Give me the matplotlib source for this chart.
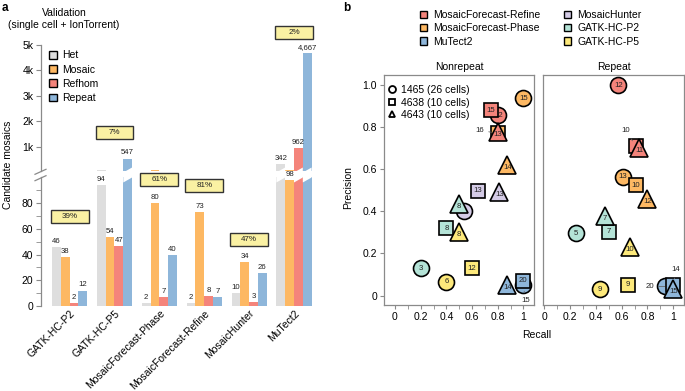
import matplotlib
matplotlib.use("Agg")
import matplotlib.pyplot as plt
from matplotlib.patches import Rectangle, Polygon, Patch
from matplotlib.lines import Line2D
from matplotlib.transforms import blended_transform_factory
import numpy as np

plt.rcParams['font.family'] = ['Liberation Sans', 'DejaVu Sans']

# ---------------- data: panel a ----------------
methods_a = ["GATK-HC-P2", "GATK-HC-P5", "MosaicForecast-Phase",
             "MosaicForecast-Refine", "MosaicHunter", "MuTect2"]
categories = ["Het", "Mosaic", "Refhom", "Repeat"]
het = [46, 94, 2, 2, 10, 342]
mosaic = [38, 54, 80, 73, 34, 98]
refhom = [2, 47, 7, 8, 3, 962]
repeat = [12, 547, 40, 7, 26, 4667]
pct_labels = ["39%", "7%", "61%", "81%", "47%", "2%"]

# ---------------- data: panel b ----------------
legend_methods = ["MosaicForecast-Refine", "MosaicForecast-Phase", "MuTect2",
                  "MosaicHunter", "GATK-HC-P2", "GATK-HC-P5"]
shape_names = ["1465 (26 cells)", "4638 (10 cells)", "4643 (10 cells)"]

nr_method = ["MosaicForecast-Phase", "MosaicForecast-Refine", "MuTect2", "MosaicHunter",
             "GATK-HC-P2", "GATK-HC-P5",
             "MosaicForecast-Refine", "MosaicForecast-Phase", "MuTect2", "MosaicHunter",
             "GATK-HC-P2", "GATK-HC-P5",
             "MosaicForecast-Refine", "MosaicForecast-Phase", "MuTect2", "MosaicHunter",
             "GATK-HC-P2", "GATK-HC-P5"]
nr_shape = [0, 0, 0, 0, 0, 0, 1, 1, 1, 1, 1, 1, 2, 2, 2, 2, 2, 2]
nr_recall = [1.00, 0.805, 1.00, 0.54, 0.20, 0.40,
             0.746, 0.80, 1.00, 0.644, 0.40, 0.60,
             0.80, 0.875, 0.875, 0.813, 0.50, 0.50]
nr_precision = [0.937, 0.857, 0.05, 0.40, 0.13, 0.066,
                0.881, 0.77, 0.07, 0.498, 0.32, 0.13,
                0.778, 0.62, 0.052, 0.494, 0.435, 0.30]
nr_count = [15, 12, 15, 8, 3, 6,
            15, 16, 20, 13, 8, 12,
            13, 14, 14, 13, 8, 8]

rp_method = ["MosaicForecast-Refine", "MosaicForecast-Phase", "MuTect2",
             "GATK-HC-P2", "GATK-HC-P5",
             "MosaicForecast-Refine", "MosaicForecast-Phase", "MuTect2",
             "GATK-HC-P2", "GATK-HC-P5",
             "MosaicForecast-Refine", "MosaicForecast-Phase", "MuTect2",
             "GATK-HC-P2", "GATK-HC-P5"]
rp_shape = [0, 0, 0, 0, 0, 1, 1, 1, 1, 1, 2, 2, 2, 2, 2]
rp_recall = [0.575, 0.61, 0.936, 0.245, 0.433,
             0.71, 0.71, 1.00, 0.50, 0.647,
             0.735, 0.80, 1.00, 0.47, 0.665]
rp_precision = [1.00, 0.565, 0.043, 0.296, 0.03,
                0.71, 0.525, 0.05, 0.304, 0.051,
                0.70, 0.457, 0.03, 0.38, 0.23]
rp_count = [12, 13, 20, 5, 9,
            10, 10, 14, 7, 9,
            11, 12, 15, 7, 10]

# ---------------- styles / layout ----------------
cat_colors = ["#dedede", "#fdb863", "#f4847b", "#8eb6da"]
method_colors = {"MosaicForecast-Refine": "#f4847b", "MosaicForecast-Phase": "#fdb863",
                 "MuTect2": "#8eb6da", "MosaicHunter": "#d4cbe6",
                 "GATK-HC-P2": "#b4e3d7", "GATK-HC-P5": "#fde97b"}
shape_markers = ["o", "s", "^"]
shape_sizes = [11.5, 9.5, 13]
# offsets (points) of labels drawn outside the marker: index -> offset
outside_nr = {2: (1.5, -11), 7: (-13, 2.5)}
outside_rp = {2: (-11, 0), 5: (-7, 11), 7: (2, 11)}
pct_box_y = [70, 135, 98.8, 94, 52, 213]  # vertical centres of percent boxes (lower-axis units)

W, H = 685, 391
fig = plt.figure(figsize=(W / 100, H / 100), dpi=100)

def fx(px):
    return px / W

def fy(py):
    return 1 - py / H

GRAY = "#8a8a8a"
FS = 7.5

# ---------------- panel a ----------------
ax_high = fig.add_axes([fx(41), fy(171), fx(316) - fx(41), fy(15) - fy(171)])
ax_low = fig.add_axes([fx(41), fy(306), fx(316) - fx(41), fy(177) - fy(306)])
for a in (ax_high, ax_low):
    a.patch.set_visible(False)
    for s in ("top", "right", "bottom"):
        a.spines[s].set_visible(False)
    a.spines["left"].set_color(GRAY)
    a.spines["left"].set_linewidth(0.9)
    a.tick_params(axis="y", which="both", color=GRAY, labelsize=FS, pad=2)
    a.tick_params(axis="y", which="major", length=3.5)
    a.tick_params(axis="y", which="minor", length=3.5)
    a.set_xlim(0, 31.25)

LOW_TOP = 100.4
HIGH_LOW, HIGH_TOP = 58.7, 6164
ax_low.set_ylim(0, LOW_TOP)
ax_high.set_ylim(HIGH_LOW, HIGH_TOP)
ax_high.spines["left"].set_bounds(HIGH_LOW, 5000)

pitch = 5.1
group_left = np.arange(len(methods_a)) * pitch + 1.25
group_center = group_left + 2.0
series = [het, mosaic, refhom, repeat]

for j, (vals, col) in enumerate(zip(series, cat_colors)):
    xs = group_left + j + 0.5
    ax_low.bar(xs, vals, width=1.0, color=col, linewidth=0)
    ax_high.bar(xs, vals, width=1.0, color=col, linewidth=0)
    for x, v in zip(xs, vals):
        tgt = ax_low if v <= LOW_TOP else ax_high
        tgt.annotate(f"{v:,}", (x, v), xytext=(0, 1.5), textcoords="offset points",
                     ha="center", va="bottom", fontsize=5.6, color="#222222")
        if v > LOW_TOP:
            tr = blended_transform_factory(ax_low.transData, fig.transFigure)
            poly = Polygon([(x - 0.5, fy(182.5)), (x + 0.5, fy(177.5)),
                            (x + 0.5, fy(167.5)), (x - 0.5, fy(172.5))],
                           closed=True, facecolor="white", edgecolor="none",
                           transform=tr, zorder=5)
            fig.add_artist(poly)

ax_low.set_xticks(group_center)
ax_low.set_xticklabels(methods_a, rotation=45, ha="right", va="top",
                       rotation_mode="anchor", fontsize=FS)
ax_low.tick_params(axis="x", length=0, pad=1.5)
ax_low.set_yticks([0, 20, 40, 60, 80])
ax_low.set_yticks([10, 30, 50, 70, 90], minor=True)
ax_high.set_xticks([])
ax_high.set_yticks([1000, 2000, 3000, 4000, 5000])
ax_high.set_yticklabels(["1k", "2k", "3k", "4k", "5k"])

# spine break marks
for (y0, y1) in [(174.3, 169.3), (180.7, 175.7)]:
    fig.add_artist(Line2D([fx(35), fx(46)], [fy(y0), fy(y1)], color=GRAY, lw=0.9))

# percent boxes
bw, bh = 4.3, 10.1
for xc, yc, lab in zip(group_center, pct_box_y, pct_labels):
    ax_low.add_patch(Rectangle((xc - bw / 2, yc - bh / 2), bw, bh, facecolor="#faf1a3",
                               edgecolor="#333333", lw=1.0, clip_on=False, zorder=6))
    ax_low.text(xc, yc, lab, ha="center", va="center", fontsize=5.8, clip_on=False,
                zorder=7, color="#222222")

fig.text(fx(64), fy(13), "Validation", ha="center", va="center", fontsize=FS)
fig.text(fx(64), fy(25), "(single cell + IonTorrent)", ha="center", va="center", fontsize=FS)
fig.text(fx(8), fy(165), "Candidate mosaics", rotation=90, ha="center", va="center", fontsize=FS)
fig.text(fx(2), fy(8), "a", fontweight="bold", fontsize=8.5, va="center")

fig.legend([Patch(facecolor=c, edgecolor="black", lw=1.0) for c in cat_colors],
           categories, loc="upper left", bbox_to_anchor=(fx(49), fy(50.5)),
           frameon=False, fontsize=FS, handlelength=0.75, handleheight=0.75,
           handletextpad=0.5, labelspacing=0.4, borderpad=0, borderaxespad=0)

# ---------------- panel b ----------------
axL = fig.add_axes([fx(384), fy(305), fx(534) - fx(384), fy(75) - fy(305)])
axR = fig.add_axes([fx(543), fy(305), fx(684) - fx(543), fy(75) - fy(305)])
axL.set_xlim(-0.0857, 1.083)
axR.set_xlim(-0.008, 1.083)
for a in (axL, axR):
    a.set_ylim(-0.045, 1.048)
    for s in a.spines.values():
        s.set_color(GRAY)
        s.set_linewidth(0.9)
    a.set_xticks([0, 0.2, 0.4, 0.6, 0.8, 1.0])
    a.set_xticklabels(["0", "0.2", "0.4", "0.6", "0.8", "1"])
    a.set_xticks(np.round(np.arange(0.1, 1.0, 0.2), 2), minor=True)
    a.tick_params(axis="both", which="both", color=GRAY, labelsize=FS, length=3, pad=2)
axL.set_yticks([0, 0.2, 0.4, 0.6, 0.8, 1.0])
axL.set_yticklabels(["0", "0.2", "0.4", "0.6", "0.8", "1.0"])
axR.set_yticks([])


def draw_points(ax, methods, shapes, xs, ys, counts, outside):
    for i, (m, s, x, y, c) in enumerate(zip(methods, shapes, xs, ys, counts)):
        z = 3 + i * 0.02
        ax.plot([x], [y], marker=shape_markers[s], ms=shape_sizes[s],
                mfc=method_colors[m], mec="black", mew=1.2, ls="none",
                zorder=z, clip_on=False)
        if i in outside:
            ax.annotate(str(c), (x, y), xytext=outside[i], textcoords="offset points",
                        ha="center", va="center", fontsize=5.6, color="#222222",
                        zorder=z + 0.01,
                        arrowprops=dict(arrowstyle="-", color="#666666", lw=0.6,
                                        shrinkA=1.5, shrinkB=4.5))
        else:
            dy = -1.8 if s == 2 else 0
            ax.annotate(str(c), (x, y), xytext=(0, dy), textcoords="offset points",
                        ha="center", va="center", fontsize=5.6, color="#222222",
                        zorder=z + 0.01)


draw_points(axL, nr_method, nr_shape, nr_recall, nr_precision, nr_count, outside_nr)
draw_points(axR, rp_method, rp_shape, rp_recall, rp_precision, rp_count, outside_rp)

shape_handles = [Line2D([], [], marker=m, ls="none", mfc="white", mec="black", mew=1.3, ms=5)
                 for m in shape_markers]
axL.legend(shape_handles, shape_names, loc="upper left", bbox_to_anchor=(0.0, 0.975),
           frameon=False, fontsize=FS, handlelength=0.8, handletextpad=0.4,
           labelspacing=0.25, borderpad=0.2, borderaxespad=0.2)

fig.text(fx(459), fy(66.7), "Nonrepeat", ha="center", va="center", fontsize=FS)
fig.text(fx(613.5), fy(66.7), "Repeat", ha="center", va="center", fontsize=FS)
fig.text(fx(348), fy(188), "Precision", rotation=90, ha="center", va="center", fontsize=FS)
fig.text(fx(537), fy(335), "Recall", ha="center", va="center", fontsize=FS)
fig.text(fx(343), fy(8), "b", fontweight="bold", fontsize=8.5, va="center")

fig.legend([Patch(facecolor=method_colors[m], edgecolor="black", lw=1.0) for m in legend_methods],
           legend_methods, loc="upper left", bbox_to_anchor=(fx(420), fy(10)), ncol=2,
           frameon=False, fontsize=FS, handlelength=0.7, handleheight=0.7,
           handletextpad=0.6, labelspacing=0.32, columnspacing=2.2,
           borderpad=0, borderaxespad=0)

fig.savefig("out.png", dpi=100)
